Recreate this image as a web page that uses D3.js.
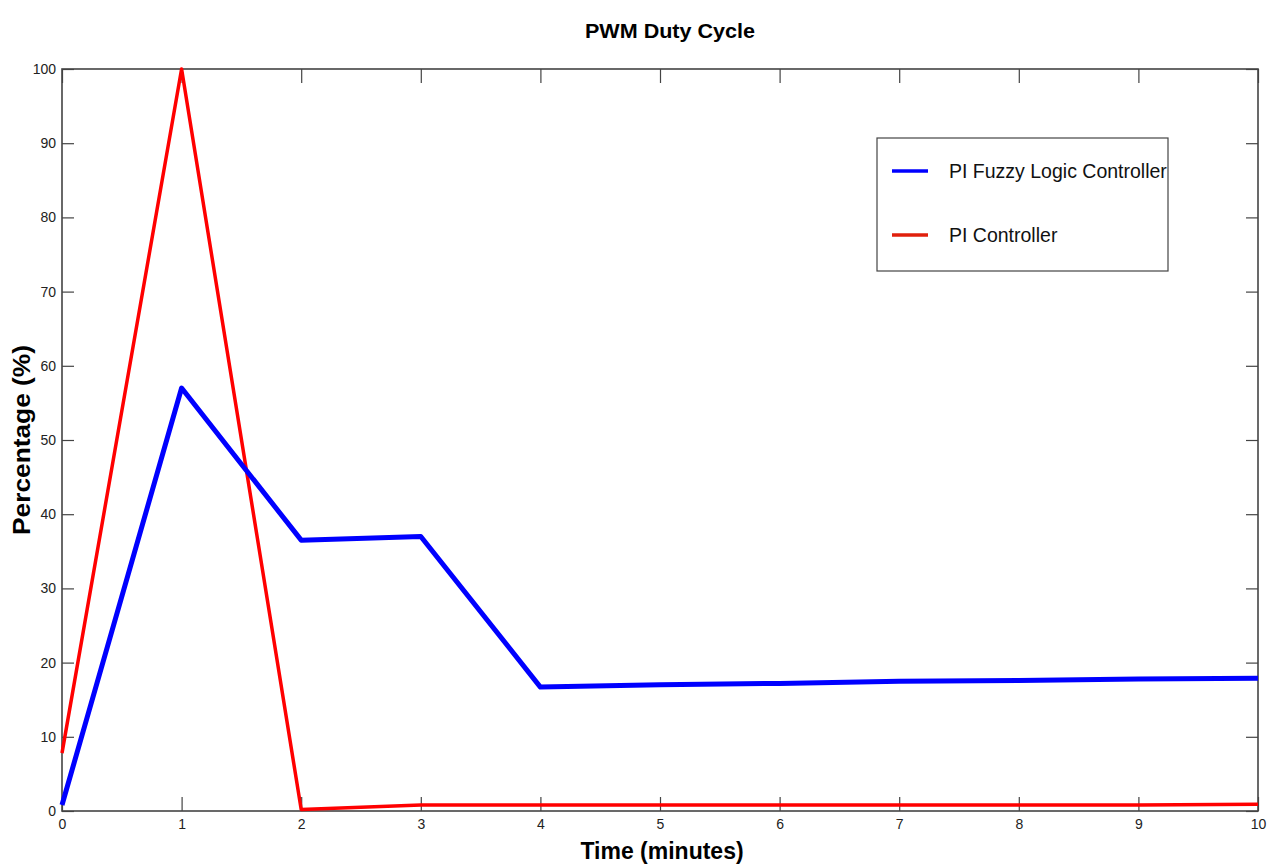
<!DOCTYPE html>
<html>
<head>
<meta charset="utf-8">
<script src="https://cdn.jsdelivr.net/npm/d3@7"></script>
<style>
  body { margin: 0; background: #fff; }
  svg { display: block; font-family: "Liberation Sans", Arial, sans-serif; }
</style>
</head>
<body>
<svg id="chart" width="1267" height="864"></svg>
<script>
// data
const fuzzyTime = [0, 1, 2, 3, 4, 5, 6, 7, 8, 9, 10];
const fuzzyDuty = [0.8, 57, 36.5, 37, 16.7, 17, 17.2, 17.5, 17.6, 17.8, 17.9];
const piTime = [0, 1, 2, 2.5, 3, 4, 5, 6, 7, 8, 9, 10];
const piDuty = [7.8, 100, 0.2, 0.5, 0.8, 0.8, 0.8, 0.8, 0.8, 0.8, 0.8, 0.9];
const xTicks = [0, 1, 2, 3, 4, 5, 6, 7, 8, 9, 10];
const yTicks = [0, 10, 20, 30, 40, 50, 60, 70, 80, 90, 100];

const width = 1267;
const height = 864;
const margin = {top: 69, right: 9, bottom: 53, left: 62};

const svg = d3.select('#chart');

const x = d3.scaleLinear().domain([0, 10]).range([margin.left, width - margin.right]);
const y = d3.scaleLinear().domain([0, 100]).range([height - margin.bottom, margin.top]);

// ticks on all four sides, pointing inward
const frame = '#444';
svg.append('g')
    .attr('transform', `translate(0, ${y(0)})`)
    .call(d3.axisBottom(x).tickValues(xTicks).tickSizeInner(-14).tickSizeOuter(0).tickPadding(8))
    .call(g => g.select('.domain').remove());
svg.append('g')
    .attr('transform', `translate(0, ${y(100)})`)
    .call(d3.axisTop(x).tickValues(xTicks).tickSizeInner(-14).tickSizeOuter(0).tickFormat(''))
    .call(g => g.select('.domain').remove());
svg.append('g')
    .attr('transform', `translate(${x(0)}, 0)`)
    .call(d3.axisLeft(y).tickValues(yTicks).tickSizeInner(-12).tickSizeOuter(0).tickPadding(6))
    .call(g => g.select('.domain').remove());
svg.append('g')
    .attr('transform', `translate(${x(10)}, 0)`)
    .call(d3.axisRight(y).tickValues(yTicks).tickSizeInner(-12).tickSizeOuter(0).tickFormat(''))
    .call(g => g.select('.domain').remove());

svg.selectAll('.tick line').attr('stroke', frame).attr('stroke-width', 1.2);
svg.selectAll('.tick text')
    .attr('fill', '#222')
    .style('font-size', '14px')
    .style('font-family', '"Liberation Sans", Arial, sans-serif');

svg.append('rect')
    .attr('x', x(0)).attr('y', y(100))
    .attr('width', x(10) - x(0)).attr('height', y(0) - y(100))
    .attr('fill', 'none').attr('stroke', frame).attr('stroke-width', 1.6);

const line = d3.line().x(d => x(d[0])).y(d => y(d[1]));

svg.append('path')
    .datum(piTime.map((t, i) => [t, piDuty[i]]))
    .attr('d', line)
    .attr('fill', 'none').attr('stroke', '#ff0000').attr('stroke-width', 3.5)
    .attr('stroke-linejoin', 'round');

svg.append('path')
    .datum(fuzzyTime.map((t, i) => [t, fuzzyDuty[i]]))
    .attr('d', line)
    .attr('fill', 'none').attr('stroke', '#0000ff').attr('stroke-width', 5)
    .attr('stroke-linejoin', 'round');

// titles
svg.append('text')
    .attr('x', 670).attr('y', 38)
    .attr('text-anchor', 'middle')
    .style('font-size', '21px').style('font-weight', 'bold')
    .attr('textLength', 170).attr('lengthAdjust', 'spacingAndGlyphs')
    .text('PWM Duty Cycle');

svg.append('text')
    .attr('x', 662).attr('y', 859)
    .attr('text-anchor', 'middle')
    .style('font-size', '23px').style('font-weight', 'bold')
    .text('Time (minutes)');

svg.append('text')
    .attr('transform', `translate(30, 440) rotate(-90)`)
    .attr('text-anchor', 'middle')
    .style('font-size', '24px').style('font-weight', 'bold')
    .attr('textLength', 190).attr('lengthAdjust', 'spacingAndGlyphs')
    .text('Percentage (%)');

// legend
const legendItems = [
    {name: 'PI Fuzzy Logic Controller', color: '#0000ff'},
    {name: 'PI Controller', color: '#e0200c'}
];
const legend = svg.append('g').attr('transform', 'translate(877, 138)');
legend.append('rect')
    .attr('width', 291).attr('height', 133)
    .attr('fill', '#fff').attr('stroke', frame).attr('stroke-width', 1.2);
const item = legend.selectAll('.item')
    .data(legendItems)
    .enter().append('g')
    .attr('transform', (d, i) => `translate(0, ${33 + i * 64})`);
item.append('line')
    .attr('x1', 15).attr('x2', 51)
    .attr('stroke', d => d.color).attr('stroke-width', 3.5);
item.append('text')
    .attr('x', 72).attr('y', 7)
    .style('font-size', '19.5px')
    .attr('fill', '#111')
    .text(d => d.name);
</script>
</body>
</html>
